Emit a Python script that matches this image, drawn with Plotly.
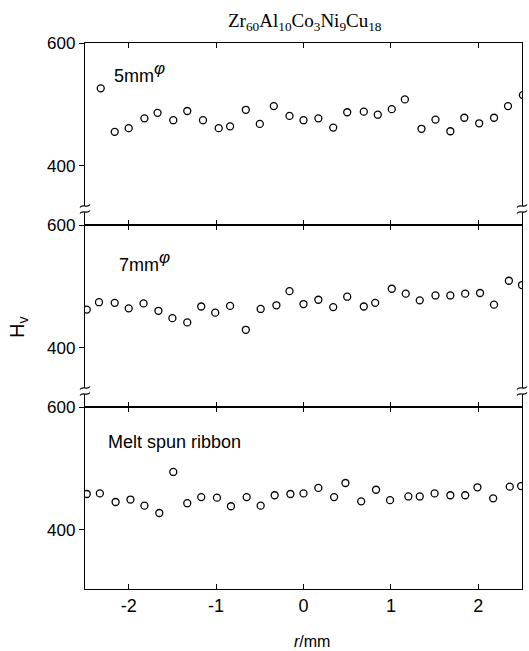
import plotly.graph_objects as go
from plotly.subplots import make_subplots

# ---- data ----
r_5mm = [-2.32, -2.16, -2.00, -1.82, -1.67, -1.49, -1.33, -1.15, -0.97, -0.84,
         -0.66, -0.50, -0.34, -0.16, 0.00, 0.17, 0.34, 0.50, 0.69, 0.85,
         1.01, 1.16, 1.35, 1.51, 1.68, 1.84, 2.01, 2.18, 2.34, 2.51]
hv_5mm = [526, 455, 461, 477, 486, 474, 489, 474, 461, 464,
          491, 468, 497, 481, 474, 477, 462, 487, 488, 483,
          492, 508, 460, 475, 456, 478, 469, 478, 497, 515]

r_7mm = [-2.48, -2.34, -2.16, -2.00, -1.83, -1.66, -1.50, -1.33, -1.17, -1.01,
         -0.84, -0.66, -0.49, -0.31, -0.16, 0.00, 0.17, 0.34, 0.50, 0.69,
         0.82, 1.01, 1.17, 1.33, 1.51, 1.68, 1.85, 2.02, 2.18, 2.35, 2.50]
hv_7mm = [462, 474, 473, 464, 472, 460, 448, 441, 467, 457,
          468, 429, 463, 469, 492, 471, 478, 466, 483, 467,
          473, 496, 488, 477, 485, 485, 488, 489, 470, 509, 502]

r_ribbon = [-2.48, -2.33, -2.15, -1.98, -1.82, -1.65, -1.49, -1.33, -1.17, -0.99,
            -0.83, -0.65, -0.49, -0.33, -0.15, 0.00, 0.17, 0.35, 0.48, 0.66,
            0.83, 0.99, 1.20, 1.33, 1.50, 1.68, 1.85, 1.99, 2.17, 2.36, 2.49]
hv_ribbon = [458, 459, 445, 449, 439, 427, 494, 443, 453, 452,
             438, 453, 439, 456, 458, 459, 468, 453, 476, 446,
             465, 448, 454, 454, 459, 456, 456, 469, 451, 470, 471]

panel_labels = ["5mm<sup><span style='font-size:17px'><i>φ</i></span></sup>",
                "7mm<sup><span style='font-size:17px'><i>φ</i></span></sup>",
                "Melt spun ribbon"]
x_ticks = [-2, -1, 0, 1, 2]
x_ticklabels = ["-2", "-1", "0", "1", "2"]
y_ticks = [400, 600]
y_ticklabels = ["400", "600"]
x_range = [-2.5, 2.5]
y_range = [303, 600]

# ---- figure ----
W, H = 529, 651
ML, MR, MT, MB = 85, 7, 43, 62
PW, PH = W - ML - MR, H - MT - MB

fig = make_subplots(rows=3, cols=1, shared_xaxes=True, vertical_spacing=0)

series = [(r_5mm, hv_5mm), (r_7mm, hv_7mm), (r_ribbon, hv_ribbon)]
for i, (xs, ys) in enumerate(series, start=1):
    fig.add_trace(go.Scatter(
        x=xs, y=ys, mode="markers",
        marker=dict(symbol="circle-open", size=7, color="black",
                    line=dict(width=1.3, color="black")),
        showlegend=False, cliponaxis=True), row=i, col=1)

tickfont_y = dict(family="Liberation Sans, Arial", size=17, color="black")
tickfont_x = dict(family="Liberation Sans, Arial", size=18, color="black")

for i in range(1, 4):
    fig.update_xaxes(row=i, col=1, range=x_range, tickvals=x_ticks, ticktext=x_ticklabels,
                     ticks="inside", ticklen=5, tickwidth=1.2, tickcolor="black",
                     showline=True, linecolor="black", linewidth=1.3, mirror="ticks",
                     showgrid=False, zeroline=False,
                     showticklabels=(i == 3), tickfont=tickfont_x)
    fig.update_yaxes(row=i, col=1, range=y_range, tickvals=y_ticks, ticktext=y_ticklabels,
                     ticks="outside", ticklen=5, tickwidth=1.2, tickcolor="black",
                     showline=True, linecolor="black", linewidth=1.3, mirror=True,
                     showgrid=False, zeroline=False, tickfont=tickfont_y)

# right-side inward ticks via overlaying axes
right_axis = dict(side="right", range=y_range, tickvals=[400],
                  ticks="inside", ticklen=5, tickwidth=1.2, tickcolor="black",
                  showticklabels=False, showgrid=False, zeroline=False, showline=False)
fig.update_layout(
    yaxis4=dict(overlaying="y", **right_axis),
    yaxis5=dict(overlaying="y2", **right_axis),
    yaxis6=dict(overlaying="y3", **right_axis),
)


def px_x(p):
    return (p - ML) / PW


def px_y(p):
    return (H - MB - p) / PH


annotations = []
# title
annotations.append(dict(
    text="Zr<sub>60</sub>Al<sub>10</sub>Co<sub>3</sub>Ni<sub>9</sub>Cu<sub>18</sub>",
    xref="paper", yref="paper", x=px_x(305), y=px_y(22), showarrow=False,
    xanchor="center", yanchor="middle",
    font=dict(family="Liberation Serif, Times New Roman", size=19, color="black")))
# panel labels
label_pos = [(112, 72), (117, 261), (106, 442)]
for txt, (lx, ly) in zip(panel_labels, label_pos):
    annotations.append(dict(text=txt, xref="paper", yref="paper",
                            x=px_x(lx), y=px_y(ly), showarrow=False,
                            xanchor="left", yanchor="middle",
                            font=dict(family="Liberation Sans, Arial", size=18, color="black")))
# y title
annotations.append(dict(text="H<sub>v</sub>", xref="paper", yref="paper",
                        x=px_x(19), y=px_y(328), showarrow=False, textangle=-90,
                        xanchor="center", yanchor="middle",
                        font=dict(family="Liberation Sans, Arial", size=20, color="black")))
# x title
annotations.append(dict(text="<i>r</i>/mm", xref="paper", yref="paper",
                        x=px_x(312), y=px_y(641), showarrow=False,
                        xanchor="center", yanchor="middle",
                        font=dict(family="Liberation Sans, Arial", size=16, color="black")))

# axis break marks
shapes = []
for cy in (209, 391):
    for cx in (ML, W - MR):
        shapes.append(dict(type="rect", xref="paper", yref="paper",
                           x0=px_x(cx - 2), x1=px_x(cx + 2), y0=px_y(cy + 3), y1=px_y(cy - 3),
                           fillcolor="white", line=dict(width=0), layer="above"))
        for dy in (-3, 3):
            y0 = cy + dy
            path = (f"M {px_x(cx - 5)},{px_y(y0 + 1.5)} "
                    f"C {px_x(cx - 2)},{px_y(y0 - 3)} {px_x(cx + 2)},{px_y(y0 + 3)} "
                    f"{px_x(cx + 5)},{px_y(y0 - 1.5)}")
            shapes.append(dict(type="path", xref="paper", yref="paper", path=path,
                               line=dict(color="black", width=1.2), layer="above"))

fig.update_layout(
    width=W, height=H,
    margin=dict(l=ML, r=MR, t=MT, b=MB, pad=0),
    paper_bgcolor="white", plot_bgcolor="white",
    annotations=annotations, shapes=shapes, showlegend=False,
)

fig.write_html("out.html")
